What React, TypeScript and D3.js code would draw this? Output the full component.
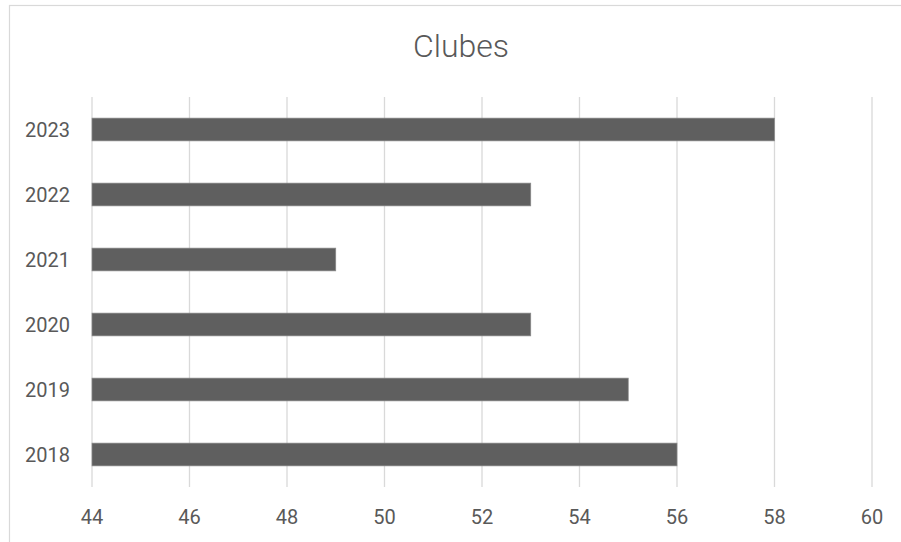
import React from "react";
import * as d3 from "d3";

const categories = ["2023", "2022", "2021", "2020", "2019", "2018"];
const values = [58, 53, 49, 53, 55, 56];
const xTicks = [44, 46, 48, 50, 52, 54, 56, 58, 60];
const title = "Clubes";

export default function App() {
  const W = 901, H = 542;
  const left = 92, right = 872, top = 97, bottom = 487;
  const x = d3.scaleLinear().domain([44, 60]).range([left, right]);
  const y = d3.scaleBand<string>().domain(categories).range([top, bottom]).paddingInner(0.65).paddingOuter(0.325);
  const font = "Roboto, 'Liberation Sans', sans-serif";
  return (
    <svg width={W} height={H} style={{ position: "absolute", left: 0, top: 0, background: "#fff" }}>
      <rect x={9.5} y={5.5} width={W + 10} height={H + 10} fill="#fff" stroke="#d9d9d9" strokeWidth={1.2} />
      <text x={461} y={56.5} textAnchor="middle" fontFamily={font} fontSize={32} fontWeight={350} fill="#595959">{title}</text>
      {xTicks.map((t) => (
        <line key={t} x1={x(t)} x2={x(t)} y1={top} y2={bottom} stroke="#d9d9d9" strokeWidth={1.3} />
      ))}
      {categories.map((c, i) => (
        <rect key={c} x={x(44)} y={y(c)} width={x(values[i]) - x(44)} height={y.bandwidth()} fill="#5f5f5f" stroke="#8a8a8a" strokeWidth={0.7} />
      ))}
      {categories.map((c) => (
        <text key={c} x={70} y={(y(c) as number) + y.bandwidth() / 2 + 7.5} textAnchor="end" fontFamily={font} fontSize={20} fontWeight={400} fill="#595959">{c}</text>
      ))}
      {xTicks.map((t) => (
        <text key={t} x={x(t)} y={524} textAnchor="middle" fontFamily={font} fontSize={20} fontWeight={400} fill="#595959">{t}</text>
      ))}
    </svg>
  );
}
